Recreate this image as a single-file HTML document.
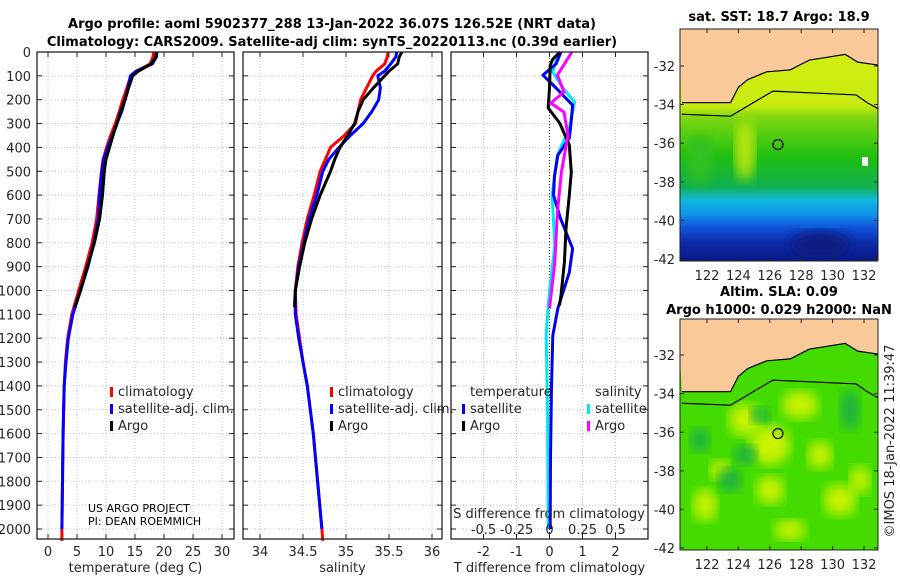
<!DOCTYPE html>
<html><head><meta charset="utf-8"><style>
html,body{margin:0;padding:0;background:#fff;}
svg{display:block;font-family:"DejaVu Sans","Liberation Sans",sans-serif;}
.tk{font-size:13px;fill:#262626;}
.tt{font-size:13px;font-weight:bold;fill:#000;}
</style></head><body>
<svg id="fig" width="900" height="580" viewBox="0 0 900 580" xmlns="http://www.w3.org/2000/svg">
<defs>
<linearGradient id="sstg" x1="0" y1="0" x2="0" y2="1">
<stop offset="0" stop-color="#d8ee10"/><stop offset="0.33" stop-color="#c8ec10"/>
<stop offset="0.38" stop-color="#80d810"/><stop offset="0.55" stop-color="#20c010"/>
<stop offset="0.68" stop-color="#10b050"/><stop offset="0.74" stop-color="#10b8e0"/>
<stop offset="0.8" stop-color="#1090e8"/><stop offset="0.86" stop-color="#1050d8"/>
<stop offset="0.92" stop-color="#0c2aa8"/><stop offset="1" stop-color="#081a88"/>
</linearGradient>
<filter id="blur"><feGaussianBlur stdDeviation="6"/></filter>
<clipPath id="cm1"><rect x="680" y="29" width="198" height="232"/></clipPath>
<clipPath id="cm2"><rect x="680" y="319" width="198" height="231"/></clipPath>
</defs>
<text class="tt" x="332" y="28" text-anchor="middle">Argo profile: aoml 5902377_288 13-Jan-2022 36.07S 126.52E (NRT data)</text>
<text class="tt" x="332" y="46" text-anchor="middle">Climatology: CARS2009. Satellite-adj clim: synTS_20220113.nc (0.39d earlier)</text>
<g id="layer"></g>
</svg>
<script>
// ---------- data ----------
const depths = [0,20,50,80,100,150,200,250,300,350,400,450,500,600,700,800,900,1000,1100,1200,1300,1400,1600,1800,2000];
const climT = [18.2,18.1,17.6,15.3,14.3,13.6,12.9,12.3,11.6,10.8,10.1,9.5,9.2,8.8,8.4,7.6,6.5,5.3,4.1,3.4,3.0,2.8,2.6,2.5,2.4];
const satT  = [18.8,18.7,18.0,15.2,14.2,13.8,13.3,12.7,11.9,11.1,10.3,9.6,9.3,8.9,8.7,7.9,6.9,5.6,4.3,3.5,3.1,2.8,2.6,2.5,2.4];
const argoDepths = [0,20,50,80,100,150,200,250,300,350,400,450,500,600,700,800,900,1000,1070];
const argoT = [18.7,18.6,17.8,15.6,14.6,13.9,13.3,12.5,11.9,11.2,10.6,10.0,9.7,9.4,8.9,8.0,6.8,5.6,4.6];
const climS = [35.49,35.48,35.45,35.35,35.31,35.24,35.17,35.14,35.11,34.98,34.82,34.76,34.7,34.63,34.55,34.49,34.44,34.41,34.42,34.46,34.5,34.55,34.62,34.67,34.72];
const satS  = [35.59,35.58,35.52,35.45,35.37,35.4,35.38,35.3,35.2,35.05,34.92,34.8,34.73,34.66,34.57,34.51,34.45,34.41,34.41,34.45,34.5,34.55,34.62,34.67,34.72];
const argoS = [35.65,35.62,35.6,35.5,35.45,35.32,35.2,35.14,35.1,35.02,34.93,34.87,34.82,34.7,34.6,34.52,34.46,34.41,34.40];
const dTsatDepths = [0,50,97,151,223,300,361,433,520,600,697,824,924,1076,1189,1400,1700,2000];
const dTsat = [0.35,0.2,-0.2,0.2,0.7,0.65,0.6,0.25,0.15,0.12,0.33,0.7,0.6,0.25,0.1,0.06,0.03,0.02];
const dTargoDepths = [0,30,55,150,235,298,390,504,600,740,882,1020,1063];
const dTargo = [0.32,0.1,0.02,0.0,-0.04,0.31,0.6,0.66,0.6,0.5,0.45,0.35,0.3];
const dSsatDepths = [0,84,150,210,319,433,600,811,1000,1176,1500,2000];
const dSsat = [0.07,0.025,0.1,0.19,0.15,0.06,0.02,0.04,0.0,-0.025,-0.015,-0.01];
const dSargoDepths = [0,97,168,214,252,349,504,672,882,1076];
const dSargo = [0.17,0.06,0.11,0.01,0.11,0.14,0.09,0.06,0.04,0.0];
const depthTicks = [0,100,200,300,400,500,600,700,800,900,1000,1100,1200,1300,1400,1500,1600,1700,1800,1900,2000];
const tTicks = [0,5,10,15,20,25,30];
const sTicks = [34,34.5,35,35.5,36];
const sTickLabels = ["34","34.5","35","35.5","36"];
const dTTicks = [-2,-1,0,1,2];
const dSTicks = [-0.5,-0.25,0,0.25,0.5];
const dSTickLabels = ["-0.5","-0.25","0","0.25","0.5"];
const lonTicks = [122,124,126,128,130,132];
const latTicks = [-32,-34,-36,-38,-40,-42];
const floatLon = 126.52, floatLat = -36.07;

// ---------- helpers ----------
const NS="http://www.w3.org/2000/svg";
const L=document.getElementById('layer');
function mk(tag,attrs,parent){const e=document.createElementNS(NS,tag);for(const k in attrs)e.setAttribute(k,attrs[k]);(parent||L).appendChild(e);return e;}
const top0=52, bot0=539;
const yD = d => top0 + d*0.2385;
function lin(v0,p0,v1,p1){return v=>p0+(v-v0)*(p1-p0)/(v1-v0);}
const xT = lin(0,48,30,222);
const xS = lin(34,260,36,432);
const xdT = lin(-2,483.5,2,615.5);
const xdS = v => xdT(v*4);
const panels=[{x0:37,x1:234,name:'temperature-panel'},{x0:243,x1:442,name:'salinity-panel'},{x0:451,x1:648,name:'difference-panel'}];

function grid(p,xs,fx){
  xs.forEach(v=>{const l=mk('line',{x1:fx(v),x2:fx(v),y1:top0,y2:bot0,stroke:'#b8c4e8','stroke-width':1,'stroke-dasharray':'1,2'});
    
    });
  depthTicks.forEach(d=>{const l=mk('line',{x1:p.x0,x2:p.x1,y1:yD(d),y2:yD(d),stroke:'#b8c4e8','stroke-width':1,'stroke-dasharray':'1,2'});
    
    });
}
function frame(p,xs,fx,labels,title,tickY){
  const r=mk('rect',{x:p.x0,y:top0,width:p.x1-p.x0,height:bot0-top0,fill:'none',stroke:'#222','stroke-width':1.3});
  
  
  depthTicks.forEach(d=>{mk('line',{x1:p.x0,x2:p.x0+5,y1:yD(d),y2:yD(d),stroke:'#222'});mk('line',{x1:p.x1,x2:p.x1-5,y1:yD(d),y2:yD(d),stroke:'#222'});});
  xs.forEach((v,i)=>{mk('line',{x1:fx(v),x2:fx(v),y1:bot0,y2:bot0-5,stroke:'#222'});mk('line',{x1:fx(v),x2:fx(v),y1:top0,y2:top0+5,stroke:'#222'});
    const t=mk('text',{x:fx(v),y:tickY,'text-anchor':'middle',class:'tk'});t.textContent=labels[i];
    
    });
  const t=mk('text',{x:(p.x0+p.x1)/2,y:572,'text-anchor':'middle',class:'tk'});t.textContent=title;
  
  
}
function line(ds,vs,fx,color,name,w){
  const pts=ds.map((d,i)=>fx(vs[i]).toFixed(1)+','+yD(d).toFixed(1)).join(' ');
  const e=mk('polyline',{points:pts,fill:'none',stroke:color,'stroke-width':w||3,'stroke-linejoin':'round'});
  
  
  return e;
}
function legendEntry(x,y,color,label){
  mk('rect',{x:x,y:y-9,width:3,height:10,fill:color});
  const t=mk('text',{x:x+8,y:y,class:'tk'});t.textContent=label;
  
  
}

// depth labels
depthTicks.forEach(d=>{const t=mk('text',{x:31,y:yD(d)+5,'text-anchor':'end',class:'tk'});t.textContent=String(d);
  
  });

// panel 1
grid(panels[0],tTicks,xT);
line(depths.concat([2050]),climT.concat([2.4]),xT,'#ff0000','temperature-climatology-line');
line(depths,satT,xT,'#0000ff','temperature-satellite-line');
line(argoDepths,argoT,xT,'#000000','temperature-argo-line');
frame(panels[0],tTicks,xT,tTicks.map(String),'temperature (deg C)',556);
legendEntry(110,396,'#ff0000','climatology');
legendEntry(110,413,'#0000ff','satellite-adj. clim.');
legendEntry(110,430,'#000000','Argo');
let t=mk('text',{x:88,y:512,style:'font-size:11px',fill:'#000'});t.textContent='US ARGO PROJECT';


t=mk('text',{x:88,y:525,style:'font-size:11px',fill:'#000'});t.textContent='PI: DEAN ROEMMICH';



// panel 2
grid(panels[1],sTicks,xS);
line(depths.concat([2050]),climS.concat([34.73]),xS,'#ff0000','salinity-climatology-line');
line(depths,satS,xS,'#0000ff','salinity-satellite-line');
line(argoDepths,argoS,xS,'#000000','salinity-argo-line');
frame(panels[1],sTicks,xS,sTickLabels,'salinity',556);
legendEntry(330,396,'#ff0000','climatology');
legendEntry(330,413,'#0000ff','satellite-adj. clim.');
legendEntry(330,430,'#000000','Argo');

// panel 3
grid(panels[2],dTTicks,xdT);
mk('line',{x1:xdT(0),x2:xdT(0),y1:top0,y2:bot0,stroke:'#333','stroke-dasharray':'1,2'});
line(dSsatDepths,dSsat,xdS,'#00e8f0','salinity-satellite-diff-line');
line(dTsatDepths,dTsat,xdT,'#0000ee','temperature-satellite-diff-line');
line(dTargoDepths,dTargo,xdT,'#000000','temperature-argo-diff-line');
line(dSargoDepths,dSargo,xdS,'#ff00ff','salinity-argo-diff-line');
frame(panels[2],dTTicks,xdT,dTTicks.map(String),'T difference from climatology',556);
dSTicks.forEach((v,i)=>{const e=mk('text',{x:xdS(v),y:534,'text-anchor':'middle',class:'tk'});e.textContent=dSTickLabels[i];
  
  });
t=mk('text',{x:549,y:518,'text-anchor':'middle',class:'tk'});t.textContent='S difference from climatology';


t=mk('text',{x:470,y:396,class:'tk'});t.textContent='temperature';


t=mk('text',{x:595,y:396,class:'tk'});t.textContent='salinity';


legendEntry(462,413,'#0000ff','satellite');
legendEntry(462,430,'#000000','Argo');
legendEntry(587,413,'#00e8f0','satellite');
legendEntry(587,430,'#ff00ff','Argo');

// ---------- maps ----------
const xLon = lin(122,707,132,864);
const coastLon=[120.4,123.5,124.0,124.6,125.8,127.3,128.5,130.8,131.6,133.3];
const coastLat=[-33.9,-33.9,-33.1,-32.7,-32.3,-32.2,-31.7,-31.4,-31.8,-32.0];
const isoLon=[120.4,123.5,126.2,131.5,132.2,133.3];
const isoLat=[-34.5,-34.6,-33.3,-33.5,-33.9,-34.4];
function drawMap(y0,y1,yLat,clip,fillFn,prefix){
  const g=mk('g',{'clip-path':'url(#'+clip+')'});
  
  
  fillFn(g);
  let pts=coastLon.map((lo,i)=>xLon(lo)+','+yLat(coastLat[i])).join(' ');
  const land=mk('polygon',{points:pts+' 880,'+(y0-2)+' 678,'+(y0-2),fill:'#f9c99a'},g);
  
  
  mk('polyline',{points:pts,fill:'none',stroke:'#000','stroke-width':1.2},g);
  mk('polyline',{points:isoLon.map((lo,i)=>xLon(lo)+','+yLat(isoLat[i])).join(' '),fill:'none',stroke:'#000','stroke-width':1.2},g);
  const c=mk('circle',{cx:xLon(floatLon),cy:yLat(floatLat),r:5,fill:'none',stroke:'#000','stroke-width':1.2},g);
  
  
  mk('rect',{x:680,y:y0,width:198,height:y1-y0,fill:'none',stroke:'#222','stroke-width':1});
  latTicks.forEach(la=>{mk('line',{x1:680,x2:684,y1:yLat(la),y2:yLat(la),stroke:'#222'});mk('line',{x1:878,x2:874,y1:yLat(la),y2:yLat(la),stroke:'#222'});
    const e=mk('text',{x:675,y:yLat(la)+5,'text-anchor':'end',class:'tk'});e.textContent=String(la);
    
    });
  lonTicks.forEach(lo=>{mk('line',{x1:xLon(lo),x2:xLon(lo),y1:y1,y2:y1-4,stroke:'#222'});mk('line',{x1:xLon(lo),x2:xLon(lo),y1:y0,y2:y0+4,stroke:'#222'});
    const e=mk('text',{x:xLon(lo),y:y1+19,'text-anchor':'middle',class:'tk'});e.textContent=String(lo);
    
    });
}
const yLat1 = lin(-32,66,-42,259);
const yLat2 = lin(-32,355,-42,548);
drawMap(29,261,yLat1,'cm1',g=>{
  mk('rect',{x:680,y:29,width:198,height:232,fill:'url(#sstg)'},g);
  mk('ellipse',{cx:745,cy:150,rx:10,ry:30,fill:'#b8e610',filter:'url(#blur)'},g);
  mk('ellipse',{cx:700,cy:160,rx:12,ry:25,fill:'#30c020',filter:'url(#blur)'},g);
  mk('ellipse',{cx:820,cy:245,rx:30,ry:14,fill:'#081a80',filter:'url(#blur)'},g);
  mk('rect',{x:862,y:157,width:6,height:9,fill:'#fff'},g);
},'sst');
drawMap(319,550,yLat2,'cm2',g=>{
  mk('rect',{x:680,y:319,width:198,height:231,fill:'#44dc00'},g);
  [[745,420,16,16],[770,445,20,20],[800,405,18,14],[840,500,16,16],[770,490,14,14],[705,505,12,16],[820,455,12,14],[860,480,10,14],[720,470,10,10],[790,530,16,10]].forEach(b=>
    mk('ellipse',{cx:b[0],cy:b[1],rx:b[2],ry:b[3],fill:'#c8f200',filter:'url(#blur)'},g));
  [[730,480,12,12],[745,455,12,10],[850,410,10,20],[700,440,10,12],[760,415,10,8]].forEach(b=>
    mk('ellipse',{cx:b[0],cy:b[1],rx:b[2],ry:b[3],fill:'#1cb040',filter:'url(#blur)'},g));
},'sla');
t=mk('text',{x:779,y:21,'text-anchor':'middle',class:'tt'});t.textContent='sat. SST: 18.7 Argo: 18.9';


t=mk('text',{x:779,y:296,'text-anchor':'middle',class:'tt'});t.textContent='Altim. SLA: 0.09';


t=mk('text',{x:779,y:314,'text-anchor':'middle',class:'tt'});t.textContent='Argo h1000: 0.029 h2000: NaN';


t=mk('text',{x:0,y:0,'text-anchor':'middle',class:'tk',transform:'translate(894,441) rotate(-90)'});t.textContent='©IMOS 18-Jan-2022 11:39:47';


</script>
</body></html>
